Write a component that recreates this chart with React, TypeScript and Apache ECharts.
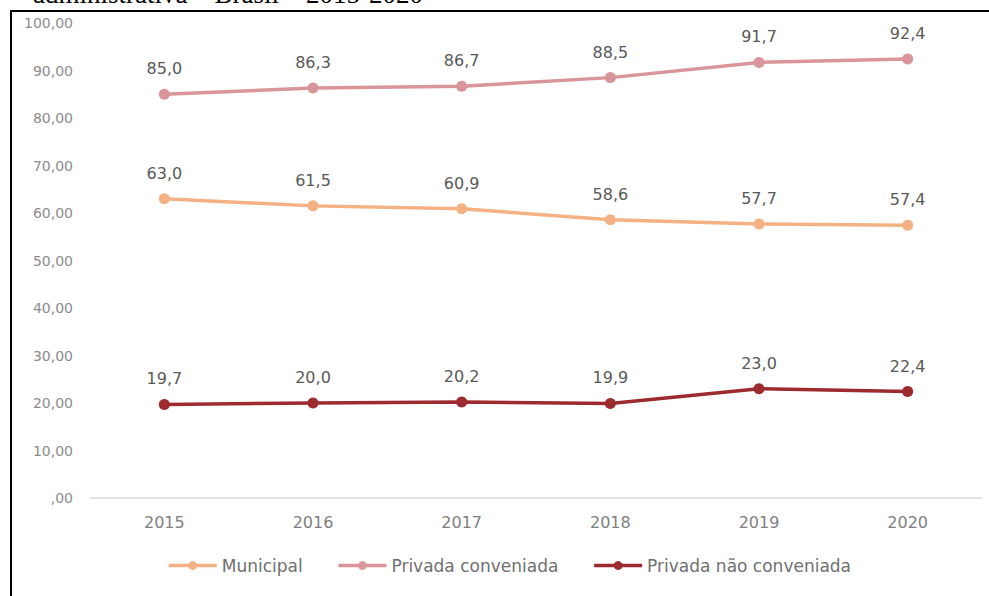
import React, { useEffect, useRef } from "react";
import * as echarts from "echarts";

const years = ["2015", "2016", "2017", "2018", "2019", "2020"];
const municipal = [63.0, 61.5, 60.9, 58.6, 57.7, 57.4];
const privadaConveniada = [85.0, 86.3, 86.7, 88.5, 91.7, 92.4];
const privadaNaoConveniada = [19.7, 20.0, 20.2, 19.9, 23.0, 22.4];
const seriesNames = ["Municipal", "Privada conveniada", "Privada não conveniada"];
const titleText = "administrativa – Brasil – 2015-2020";

const FONT = "DejaVu Sans";

export default function App() {
  const ref = useRef<HTMLDivElement>(null);
  useEffect(() => {
    if (!ref.current) return;
    const chart = echarts.init(ref.current, undefined, { renderer: "svg" });
    const fmtVal = (p: any) => Number(p.value).toFixed(1).replace(".", ",");
    const mk = (name: string, data: number[], color: string) => ({
      name,
      type: "line",
      data,
      symbol: "circle",
      symbolSize: 11,
      lineStyle: { color, width: 3.5 },
      itemStyle: { color },
      label: {
        show: true,
        position: "top",
        distance: 12,
        formatter: fmtVal,
        color: "#595959",
        fontFamily: FONT,
        fontSize: 16,
      },
    });
    chart.setOption({
      animation: false,
      backgroundColor: "#ffffff",
      textStyle: { fontFamily: FONT },
      grid: { left: 90, right: 7, top: 23, bottom: 98, containLabel: false },
      xAxis: {
        type: "category",
        data: years,
        boundaryGap: true,
        axisLine: { show: true, lineStyle: { color: "#d9d9d9", width: 1.5 } },
        axisTick: { show: false },
        axisLabel: { color: "#7f7f7f", fontSize: 16, margin: 16, fontFamily: FONT },
        splitLine: { show: false },
      },
      yAxis: {
        type: "value",
        min: 0,
        max: 100,
        interval: 10,
        axisLine: { show: false },
        axisTick: { show: false },
        splitLine: { show: false },
        axisLabel: {
          color: "#8c8c8c",
          fontSize: 14,
          margin: 17,
          fontFamily: FONT,
          formatter: (v: number) => (v === 0 ? ",00" : v.toFixed(2).replace(".", ",")),
        },
      },
      legend: {
        data: seriesNames,
        left: 167,
        top: 557,
        padding: 0,
        itemWidth: 48,
        itemHeight: 11,
        itemGap: 34,
        itemTextGap: 3,
        lineStyle: { width: 3.5 },
        textStyle: { color: "#6f6f6f", fontSize: 17, fontFamily: FONT },
      },
      graphic: [
        {
          type: "polyline",
          shape: { points: [[11, 620], [11, 11], [1000, 11]] },
          style: { stroke: "#000000", lineWidth: 2, fill: "none" },
          silent: true,
        },
        {
          type: "text",
          x: 33,
          y: -6,
          style: {
            text: titleText,
            font: "27px 'Liberation Serif', 'Times New Roman', serif",
            fill: "#000000",
            verticalAlign: "middle",
            align: "left",
          },
          silent: true,
        },
      ],
      series: [
        mk(seriesNames[0], municipal, "#F4B183"),
        mk(seriesNames[1], privadaConveniada, "#D9959A"),
        mk(seriesNames[2], privadaNaoConveniada, "#9C2A2F"),
      ],
    });
    return () => chart.dispose();
  }, []);
  return (
    <div
      ref={ref}
      style={{ position: "fixed", left: 0, top: 0, width: 989, height: 596 }}
    />
  );
}
